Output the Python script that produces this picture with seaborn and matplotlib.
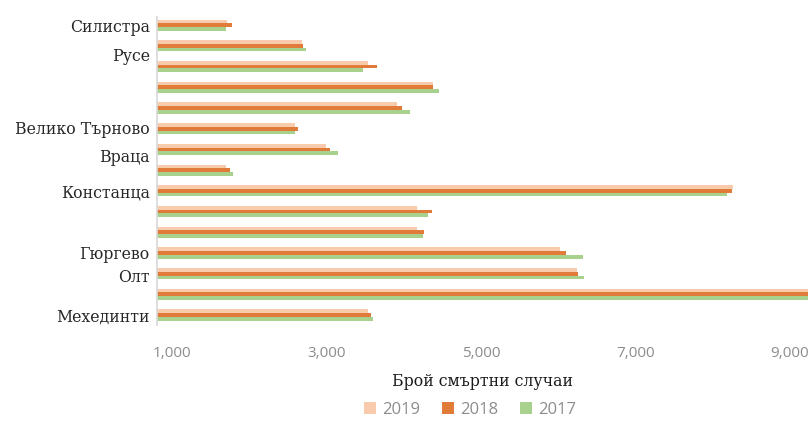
import matplotlib
matplotlib.use("Agg")
import matplotlib.pyplot as plt
from matplotlib.patches import Patch
import pandas as pd
import seaborn as sns

# districts, top to bottom (only some names are shown on the axis)
groups = list(range(15))
deaths_2019 = [1720, 2680, 3540, 4380, 3910, 2590, 2990, 1700, 8260, 4180, 4180, 6020, 6240, 9400, 3540]
deaths_2018 = [1780, 2700, 3650, 4380, 3980, 2640, 3050, 1750, 8250, 4370, 4260, 6100, 6260, 9450, 3580]
deaths_2017 = [1700, 2740, 3470, 4460, 4080, 2590, 3150, 1790, 8180, 4310, 4250, 6320, 6330, 9380, 3600]
years = ["2019", "2018", "2017"]
colors = ["#F8CBAD", "#E07B39", "#A9D18E"]

tick_names = ["Силистра", "Русе", "Велико Търново", "Враца", "Констанца", "Гюргево", "Олт", "Мехединти"]
tick_pos = [0, 1.42, 4.95, 6.3, 8, 11, 12.1, 14]
x_ticks = [1000, 3000, 5000, 7000, 9000]

df = pd.DataFrame({
    "group": groups * 3,
    "year": sum([[y] * len(groups) for y in years], []),
    "deaths": deaths_2019 + deaths_2018 + deaths_2017,
})

sns.set_theme(style="white")
plt.rcParams["font.family"] = ["DejaVu Serif"]

fig = plt.figure(figsize=(8.08, 4.21), dpi=100)
ax = fig.add_axes([0.194, 0.228, 0.806, 0.732])
sns.barplot(data=df, y="group", x="deaths", hue="year", hue_order=years,
            palette=colors, orient="h", width=0.54, saturation=1,
            linewidth=0, edgecolor="none",
            errorbar=None, legend=False, ax=ax)

ax.set_xlim(806, 9233)
ax.set_ylim(14.48, -0.4)
ax.set_xticks(x_ticks)
ax.set_xticklabels([f"{v:,}" for v in x_ticks], family="Open Sans",
                   color="#8c8c8c", fontsize=11)
ax.set_yticks(tick_pos)
ax.set_yticklabels(tick_names, fontsize=11.3, color="#262626")
ax.tick_params(axis="x", length=0, pad=15)
ax.tick_params(axis="y", length=0, pad=5)
ax.set_ylabel("")
ax.set_xlabel("Брой смъртни случаи", fontsize=11.3, color="#1a1a1a", labelpad=9)

for s in ["top", "right", "bottom"]:
    ax.spines[s].set_visible(False)
ax.spines["left"].set_color("#d9d9d9")

handles = [Patch(facecolor=c, edgecolor="none") for c in colors]
leg = fig.legend(handles, years, loc="center", bbox_to_anchor=(0.582, 0.026),
                 ncol=3, frameon=False, handlelength=0.7, handleheight=0.7,
                 handletextpad=0.4, columnspacing=1.3,
                 prop={"family": "Open Sans", "size": 12})
for t in leg.get_texts():
    t.set_color("#8c8c8c")

fig.savefig("out.png", dpi=100, facecolor="white")
